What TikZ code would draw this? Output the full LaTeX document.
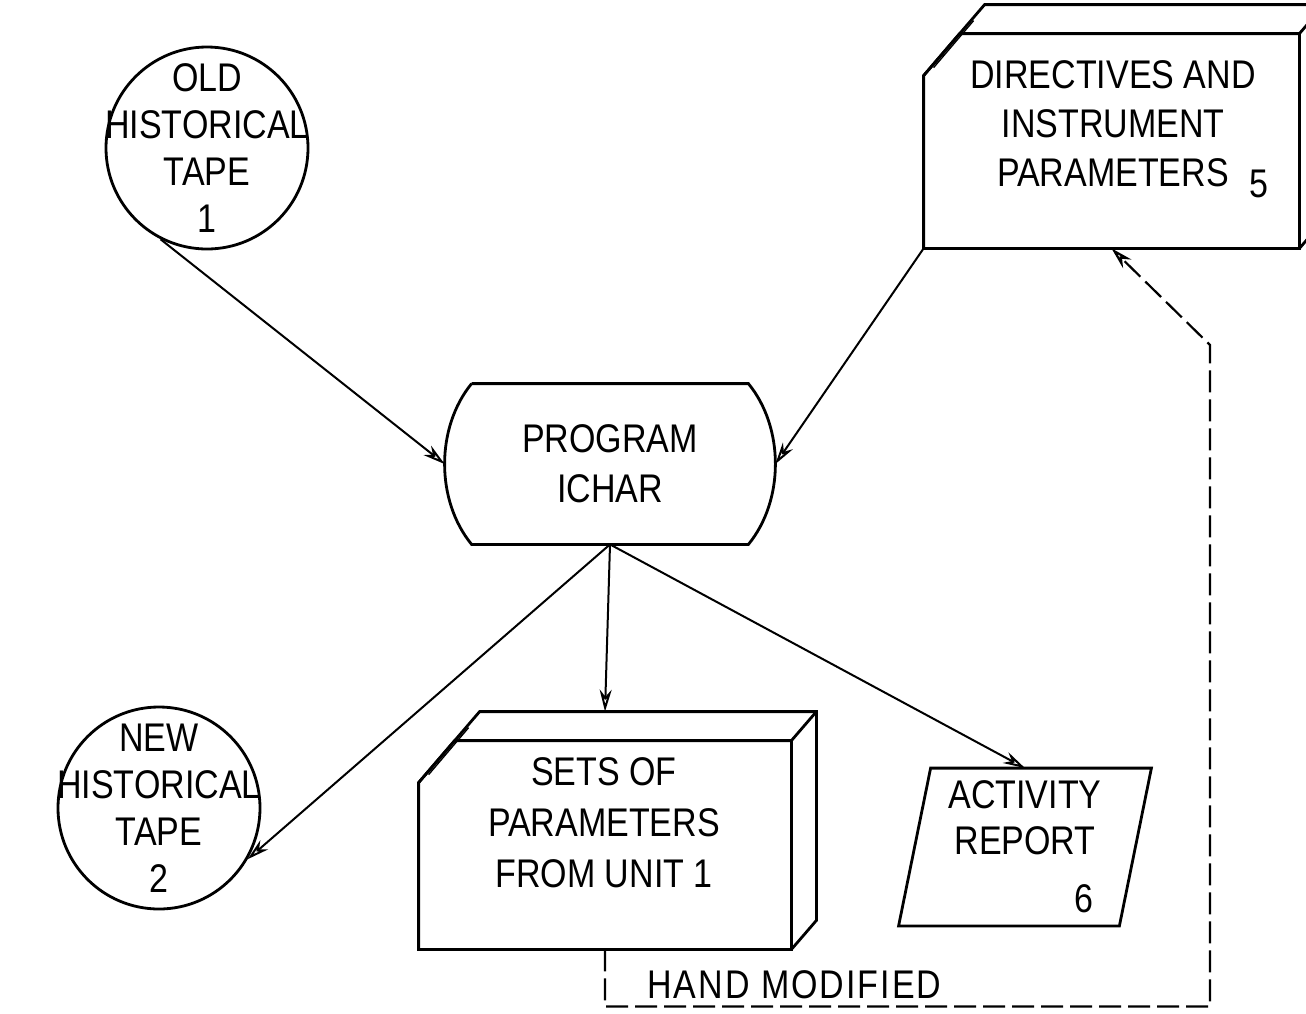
\documentclass[tikz,border=0pt]{standalone}
\usepackage{fontspec}
\setmainfont{Liberation Sans}[FakeStretch=0.85]
\usetikzlibrary{arrows.meta,calc}
% card deck drawn as a box around a face node
\newcommand{\deckbox}[1]{%
  \draw (#1.south west) -- ($(#1.north west)+(0,42)$) coordinate (#1-a)
     -- ($(#1.north west)+(36,0)$) -- (#1.north east) -- (#1.south east) -- cycle;
  \draw (#1-a) -- ($(#1.north west)+(61,-29)$) -- ($(#1.north east)+(25,-29)$)
     -- ($(#1.south east)+(25,-29)$) -- (#1.south east);
  \draw (#1.north east) -- ++(25,-29);
  \draw[line width=1.4pt] ($(#1-a)+(10,-8)$) -- ($(#1-a)+(50,-55)$);
}

\begin{document}
\begin{tikzpicture}[
      x=1pt, y=-1pt,
      line width=2.8pt,
      caps/.style={font=\fontsize{40}{47}\selectfont, align=center, inner sep=0pt},
      tape/.style={caps, circle, draw, minimum size=202pt, inner sep=-36pt},
      face/.style={rectangle, inner sep=0pt},
      flow/.style={line width=2pt, -{Stealth[open,length=22pt,width=12pt]}},
      modif/.style={line width=2.2pt, dash pattern=on 22pt off 7pt,
                    -{Stealth[open,length=22pt,width=12pt]}}
    ]
    \useasboundingbox (0,0) rectangle (1306,1013);
    % Tapes.
    \node[tape] (old) at (207,148) {OLD\\HISTORICAL\\TAPE\\1};
    \node[tape] (new) at (159,808) {NEW\\HISTORICAL\\TAPE\\2};
    % Directives deck.
    \node[face, minimum width=373pt, minimum height=212pt] (dirs) at (1111.5,141) {};
    \deckbox{dirs}
    \node[caps, font=\fontsize{40}{49}\selectfont] (dirs-text) at (1113,124)
      {DIRECTIVES AND\\INSTRUMENT\\PARAMETERS};
    \node[caps] (dirs-num) at ([xshift=-40pt,yshift=64pt]dirs.south east) {5};
    % The program.
    \node[face, caps, minimum width=274pt, minimum height=158pt,
          font=\fontsize{40}{50}\selectfont] (prog) at (610,464) {PROGRAM\\ICHAR};
    \draw (prog.north west) -- (prog.north east)
      .. controls +(36,44) and +(36,-44) .. (prog.south east) coordinate[pos=0.5] (prog-r)
      -- (prog.south west)
      .. controls +(-36,-44) and +(-36,44) .. (prog.north west) coordinate[pos=0.5] (prog-l);
    % Parameter sets deck.
    \node[face, minimum width=370pt, minimum height=206pt] (sets) at (605,845) {};
    \deckbox{sets}
    \node[caps, font=\fontsize{40}{51}\selectfont] (sets-text) at (604,823)
      {SETS OF\\PARAMETERS\\FROM UNIT 1};
    % Activity report.
    \node[face, caps, minimum width=218pt, minimum height=155pt,
          font=\fontsize{40}{46}\selectfont] (report) at (1025,847)
      {ACTIVITY\\REPORT\\[12pt]\hspace*{118pt}6};
    \draw ($(report.south west)+(-16,0)$) -- ($(report.north west)+(16,0)$)
      -- ($(report.north east)+(16,0)$) -- ($(report.south east)+(-16,0)$) -- cycle;
    % Draw the flows.
    \draw[flow] (old.243) -- (prog-l);
    \draw[flow] (dirs.south west) -- (prog-r);
    \draw[flow] (prog.south) -- (new.-30);
    \draw[flow] (prog.south) -- ([yshift=29pt]sets.north);
    \draw[flow] (prog.south) -- (report.north);
    % Hand modified feedback.
    \draw[modif] (sets.south) -- ++(0,57) -| (1210,345) -- (dirs.south);
    \node[caps, anchor=west, font=\fontsize{40}{47}\selectfont\addfontfeature{LetterSpace=5}]
      (hand) at (646,985) {HAND MODIFIED};
\end{tikzpicture}
\end{document}
